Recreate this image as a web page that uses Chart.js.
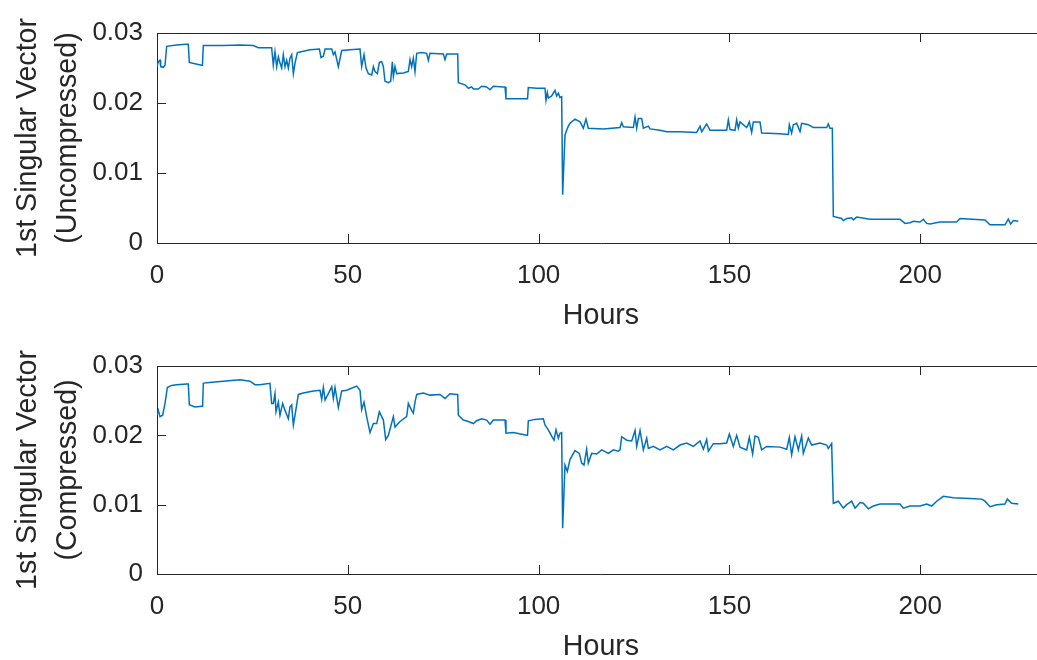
<!DOCTYPE html>
<html>
<head>
<meta charset="utf-8">
<script src="https://cdn.jsdelivr.net/npm/chart.js@4/dist/chart.umd.min.js"></script>
<style>
html, body { margin: 0; padding: 0; background: #fff; overflow: hidden; width: 1037px; height: 660px; }
canvas { position: absolute; left: 0; }
#topChart { top: 0; }
#bottomChart { top: 330px; }
</style>
</head>
<body>
<canvas id="topChart" width="1050" height="335"></canvas>
<canvas id="bottomChart" width="1050" height="335"></canvas>
<script>
// values
var hoursTop = [0,0.35,0.79,0.96,1.66,2.1,2.53,5.15,7.6,8.2,8.47,9.96,11.7,11.9,12.14,17.38,21.75,25.24,26.55,30.04,30.48,30.92,
  31.36,31.8,32.23,32.67,33.1,33.55,33.98,34.42,34.85,35.3,35.73,36.17,36.78,37.48,40.1,42.55,42.98,43.6,44.04,45.79,
  46.22,46.65,47.52,48.4,50.58,53.2,53.63,54.25,54.77,55.38,56.26,56.7,57.13,57.74,58.27,58.88,59.32,59.75,60.63,61.24,
  61.67,61.94,62.37,62.81,64.55,65.86,66.3,66.73,67.17,67.61,68.05,69.36,70.67,71.1,71.54,75.04,75.47,75.91,78.53,78.8,78.97,
  80.71,81.59,82.46,82.9,84.2,85.08,86.39,87.26,88.13,90.75,91.2,91.45,96.87,97.1,97.3,99.49,101.67,101.94,102.29,102.55,103.42,104.3,
  104.73,105.17,105.6,106.04,106.3,106.91,107.35,107.79,108.22,109.53,110.84,111.72,112.42,113.03,116.96,121.33,121.77,122.21,124.83,125.27,
  125.7,126.14,127.01,127.45,128.76,129.2,131.82,133.56,137.06,141.42,142.3,142.73,144.04,144.92,149.28,149.72,150.16,151.47,151.9,152.34,
  152.78,154.52,155.22,155.83,156.27,158.02,158.45,163.26,165.44,165.7,166.31,166.75,167.62,168.5,168.93,169.81,170.68,171.99,175.48,175.92,
  176.35,176.97,177.23,179.42,179.86,180.73,182.04,182.48,183.35,186.84,194.7,196.01,197.32,198.2,199.94,200.82,201.69,202.56,205.18,209.55,
  210.42,216.97,218.28,222.21,223.08,223.7,224.39,225.7];
var svTop = [0.0252,0.0259,0.0261,0.0252,0.0251,0.0254,0.0281,0.0283,0.0284,0.0284,0.0258,0.0256,0.0254,0.0254,0.0282,0.0282,0.0283,0.0282,0.0279,0.0279,0.0254,0.0273,
  0.0252,0.0266,0.0257,0.0250,0.0269,0.0252,0.0261,0.0250,0.0264,0.0269,0.0242,0.0257,0.0272,0.0273,0.0276,0.0277,0.0265,0.0267,0.0277,0.0277,
  0.0269,0.0273,0.0252,0.0275,0.0276,0.0277,0.0252,0.0269,0.0250,0.0242,0.0240,0.0252,0.0245,0.0242,0.0258,0.0259,0.0252,0.0231,0.0229,0.0231,
  0.0259,0.0238,0.0252,0.0242,0.0243,0.0245,0.0262,0.0252,0.0264,0.0245,0.0271,0.0272,0.0271,0.0261,0.0271,0.0270,0.0262,0.0270,0.0270,0.0270,0.0229,
  0.0226,0.0221,0.0223,0.0220,0.0220,0.0224,0.0223,0.0219,0.0224,0.0223,0.0223,0.0206,0.0206,0.0206,0.0222,0.0221,0.0221,0.0204,0.0215,0.0207,0.0210,0.0218,
  0.0210,0.0214,0.0208,0.0209,0.0069,0.0154,0.0161,0.0167,0.0171,0.0177,0.0173,0.0164,0.0177,0.0164,0.0163,0.0165,0.0172,0.0166,0.0165,0.0180,
  0.0164,0.0178,0.0178,0.0164,0.0167,0.0163,0.0161,0.0159,0.0159,0.0158,0.0167,0.0159,0.0170,0.0161,0.0161,0.0176,0.0162,0.0161,0.0176,0.0164,
  0.0173,0.0165,0.0173,0.0158,0.0173,0.0173,0.0157,0.0156,0.0155,0.0169,0.0157,0.0169,0.0171,0.0159,0.0171,0.0170,0.0169,0.0165,0.0165,0.0170,
  0.0164,0.0164,0.0038,0.0035,0.0032,0.0035,0.0036,0.0033,0.0037,0.0034,0.0034,0.0028,0.0029,0.0031,0.0030,0.0034,0.0028,0.0027,0.0030,0.0030,
  0.0035,0.0033,0.0026,0.0026,0.0034,0.0027,0.0032,0.0031];

var hoursBottom = [0,0.35,0.79,1.48,2.1,2.71,3.84,5.15,7.77,8.2,8.47,9.96,11.7,11.95,12.14,13.01,17.38,21.75,24.37,25.68,26.99,29.6,
  30.04,30.48,30.92,31.18,31.8,32.23,32.93,33.55,34.42,34.85,35.3,35.73,36.17,37.04,38.35,40.97,42.72,43.16,43.6,44.04,
  45.79,46.22,46.65,47.52,48.4,49.71,52.33,53.2,53.63,54.25,54.94,55.82,56.7,57.57,58.27,59.32,59.93,60.63,61.94,62.37,
  63.68,65.43,65.86,66.73,67.17,67.61,68.05,69.79,71.54,74.16,75.47,76.78,78.53,78.8,78.97,80.28,81.59,82.9,83.77,85.08,86.39,
  87.26,88.13,90.75,91.2,91.45,93.37,96.87,97.1,97.3,99.05,101.24,101.67,102.55,103.42,104.04,104.56,105.17,105.6,106.04,106.3,106.91,107.53,
  108.22,109.53,110.67,111.28,111.89,112.59,113.03,113.9,115.21,116.52,118.27,119.58,120.89,121.33,121.77,123.08,124.39,125.27,125.7,126.58,
  127.45,128.33,128.76,130.07,131.82,133.56,135.31,137.06,138.8,140.55,142.3,143.17,144.04,144.48,145.79,147.54,149.28,149.98,151.03,151.9,
  152.78,154.52,155.22,156.09,156.7,157.58,158.45,159.76,163.26,165.01,165.7,166.31,167.19,168.06,168.93,169.37,170.68,171.55,173.74,175.48,
  175.92,176.79,177.23,178.55,179.86,180.73,182.04,182.92,184.23,185.1,186.41,187.72,189.47,194.7,195.58,197.32,199.94,201.69,203.0,204.31,
  206.05,208.67,213.04,216.1,216.97,218.28,220.03,222.21,222.83,223.96,225.7];
var svBottom = [0.0229,0.0236,0.0227,0.0229,0.0246,0.0269,0.0272,0.0273,0.0274,0.0274,0.0244,0.0241,0.0242,0.0242,0.0275,0.0276,0.0278,0.0280,0.0278,0.0273,0.0273,0.0275,
  0.0246,0.0246,0.0260,0.0234,0.0248,0.0229,0.0246,0.0236,0.0224,0.0241,0.0244,0.0215,0.0229,0.0259,0.0261,0.0264,0.0265,0.0252,0.0269,0.0251,
  0.0270,0.0253,0.0269,0.0240,0.0264,0.0265,0.0271,0.0265,0.0237,0.0248,0.0227,0.0204,0.0217,0.0217,0.0234,0.0222,0.0194,0.0200,0.0227,0.0212,
  0.0220,0.0227,0.0246,0.0236,0.0232,0.0248,0.0259,0.0261,0.0258,0.0259,0.0253,0.0260,0.0259,0.0259,0.0229,0.0222,0.0220,0.0217,0.0221,0.0224,0.0222,
  0.0216,0.0222,0.0222,0.0222,0.0203,0.0204,0.0200,0.0200,0.0221,0.0223,0.0224,0.0215,0.0208,0.0199,0.0193,0.0208,0.0196,0.0203,0.0204,0.0066,0.0157,0.0148,
  0.0165,0.0178,0.0174,0.0160,0.0157,0.0180,0.0160,0.0174,0.0173,0.0179,0.0174,0.0179,0.0177,0.0179,0.0198,0.0193,0.0192,0.0207,0.0184,0.0207,
  0.0179,0.0196,0.0181,0.0184,0.0179,0.0184,0.0179,0.0186,0.0189,0.0184,0.0192,0.0180,0.0194,0.0177,0.0188,0.0188,0.0189,0.0202,0.0184,0.0200,
  0.0183,0.0179,0.0197,0.0173,0.0199,0.0197,0.0179,0.0184,0.0183,0.0180,0.0197,0.0172,0.0198,0.0179,0.0199,0.0174,0.0196,0.0186,0.0189,0.0186,
  0.0181,0.0188,0.0102,0.0105,0.0095,0.0100,0.0105,0.0095,0.0103,0.0102,0.0094,0.0098,0.0101,0.0101,0.0095,0.0098,0.0098,0.0101,0.0098,0.0105,
  0.0112,0.0110,0.0109,0.0108,0.0105,0.0097,0.0100,0.0101,0.0108,0.0102,0.0101];

var yTicks = [0, 0.01, 0.02, 0.03];
var xTicks = [0, 50, 100, 150, 200];
var xMax = 232.7;

var axisColor = '#262626';
var lineColor = '#0072BD';
var fontFamily = '"Liberation Sans", Arial, Helvetica, sans-serif';

// matlab style: box on top, ticks pointing into the plot
var boxTicks = {
  id: 'boxTicks',
  afterDraw: function(chart) {
    var ctx = chart.ctx, a = chart.chartArea;
    var xs = chart.scales.x, ys = chart.scales.y;
    var len = 9;
    ctx.save();
    ctx.strokeStyle = axisColor;
    ctx.lineWidth = 1;
    ctx.beginPath();
    var top = Math.round(a.top) + 0.5;
    ctx.moveTo(a.left, top);
    ctx.lineTo(a.right, top);
    xs.ticks.forEach(function(t) {
      var px = Math.round(xs.getPixelForValue(t.value)) + 0.5;
      ctx.moveTo(px, a.bottom);
      ctx.lineTo(px, a.bottom - len);
      ctx.moveTo(px, a.top);
      ctx.lineTo(px, a.top + len);
    });
    ys.ticks.forEach(function(t) {
      var py = Math.round(ys.getPixelForValue(t.value)) + 0.5;
      ctx.moveTo(a.left, py);
      ctx.lineTo(a.left + len, py);
    });
    ctx.stroke();
    ctx.restore();
  }
};

function makeChart(id, hours, values, yTitle, padTop, xHeight, titlePad) {
  var pts = [];
  for (var i = 0; i < hours.length; i++) {
    pts.push({x: hours[i], y: values[i]});
  }
  return new Chart(document.getElementById(id), {
    type: 'line',
    data: {
      datasets: [{
        data: pts,
        borderColor: lineColor,
        borderWidth: 1.5,
        pointRadius: 0,
        tension: 0,
        fill: false
      }]
    },
    options: {
      responsive: false,
      animation: false,
      layout: { padding: { top: padTop, left: 0, right: 5, bottom: 0 } },
      plugins: { legend: { display: false }, tooltip: { enabled: false } },
      scales: {
        x: {
          type: 'linear',
          min: 0,
          max: xMax,
          afterBuildTicks: function(s) { s.ticks = xTicks.map(function(v) { return {value: v}; }); },
          afterFit: function(s) { s.height = xHeight; },
          grid: { display: false, drawTicks: false },
          border: { display: true, color: axisColor, width: 1 },
          ticks: {
            padding: 17.5,
            color: axisColor,
            maxRotation: 0,
            font: { family: fontFamily, size: 26 }
          },
          title: {
            display: true,
            text: 'Hours',
            color: axisColor,
            font: { family: fontFamily, size: 28.6 },
            padding: { top: 0, bottom: titlePad }
          }
        },
        y: {
          min: 0,
          max: 0.03,
          afterBuildTicks: function(s) { s.ticks = yTicks.map(function(v) { return {value: v}; }); },
          afterFit: function(s) { s.width = 157; },
          grid: { display: false, drawTicks: false },
          border: { display: true, color: axisColor, width: 1 },
          ticks: {
            padding: 14,
            color: axisColor,
            font: { family: fontFamily, size: 26 },
            callback: function(v) { return v === 0 ? '0' : v.toFixed(2); }
          },
          title: {
            display: true,
            text: yTitle,
            color: axisColor,
            font: { family: fontFamily, size: 28.6, lineHeight: 1.4 },
            padding: { top: 8.5, bottom: 0 }
          }
        }
      }
    },
    plugins: [boxTicks]
  });
}

makeChart('topChart', hoursTop, svTop, ['1st Singular Vector', '(Uncompressed)'], 33, 92, 1.8);
makeChart('bottomChart', hoursBottom, svBottom, ['1st Singular Vector', '(Compressed)'], 36, 91, 0.3);
</script>
</body>
</html>
